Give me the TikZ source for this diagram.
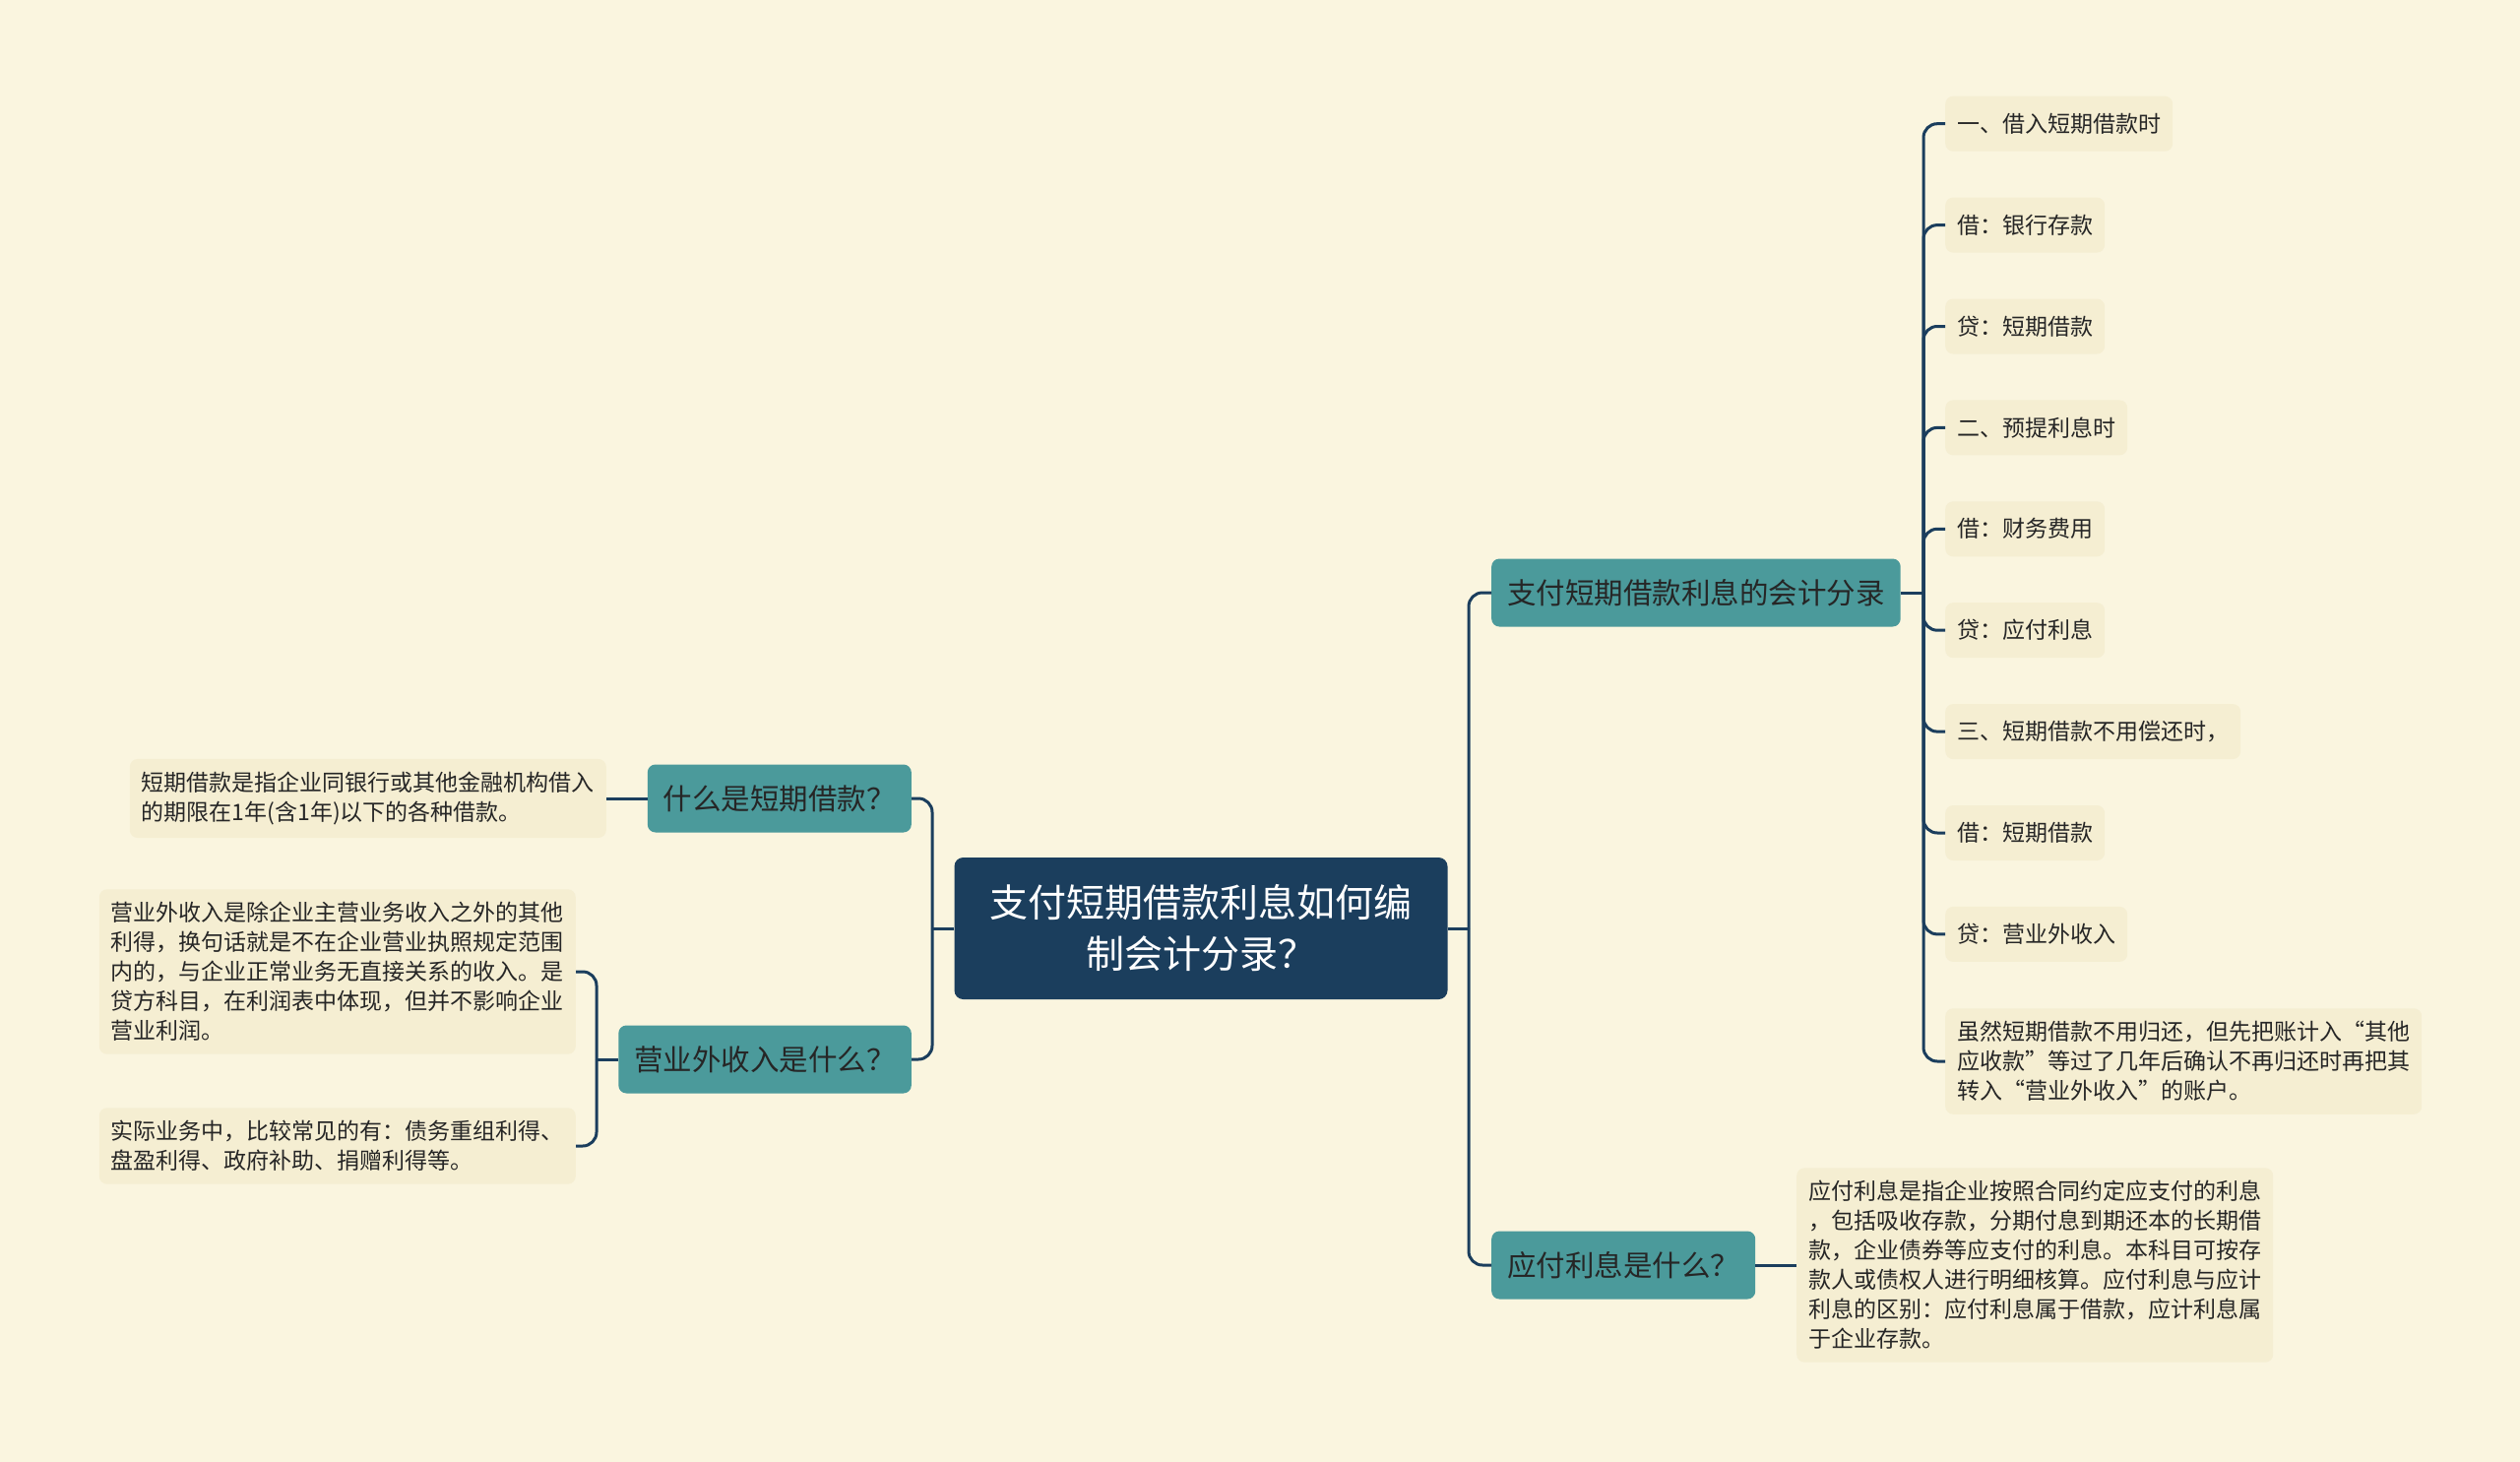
\documentclass[tikz,border=0pt]{standalone}
\usepackage{fontspec}
\setmainfont{Noto Sans CJK SC}
\definecolor{paper}{HTML}{FAF5DF}
\definecolor{navy}{HTML}{1B3E5D}
\definecolor{topicteal}{HTML}{4B9A9B}
\definecolor{leafbg}{HTML}{F5EED2}
\definecolor{ink}{HTML}{262626}

\tikzset{
  root/.style={fill=navy, text=white, rounded corners=9pt, inner xsep=36pt,
    minimum height=144pt, align=center, font=\fontsize{39}{52}\selectfont},
  topic/.style={fill=topicteal, text=ink, rounded corners=8pt, inner xsep=16pt,
    minimum height=69pt, font=\fontsize{29.5}{36}\selectfont},
  leaf/.style={fill=leafbg, text=ink, rounded corners=8pt, inner xsep=12pt,
    inner ysep=13pt, minimum height=56pt, align=left, font=\fontsize{23}{30}\selectfont},
  link/.style={draw=navy, line width=3pt, rounded corners=14pt},
}

\begin{document}
\begin{tikzpicture}[x=1pt, y=-1pt]
\fill[paper] (0,0) rectangle (2560,1485);
\useasboundingbox (0,0) rectangle (2560,1485);

\node[root] (root) at (1220,943) {支付短期借款利息如何编\\制会计分录？};

\node[topic, anchor=east] (what) at (926,811) {什么是短期借款？};
\node[topic, anchor=east] (income) at (926,1076) {营业外收入是什么？};
\node[topic, anchor=west] (entry) at (1515,602) {支付短期借款利息的会计分录};
\node[topic, anchor=west] (payable) at (1515,1285) {应付利息是什么？};

\node[leaf, anchor=east] (whatdef) at (616,811)
  {短期借款是指企业同银行或其他金融机构借入\\的期限在1年(含1年)以下的各种借款。};
\node[leaf, anchor=east] (incomedef) at (585,987)
  {营业外收入是除企业主营业务收入之外的其他\\利得，换句话就是不在企业营业执照规定范围\\内的，与企业正常业务无直接关系的收入。是\\贷方科目，在利润表中体现，但并不影响企业\\营业利润。};
\node[leaf, anchor=east] (incomeex) at (585,1164)
  {实际业务中，比较常见的有：债务重组利得、\\盘盈利得、政府补助、捐赠利得等。};
\node[leaf, anchor=west] (payabledef) at (1825,1285)
  {应付利息是指企业按照合同约定应支付的利息\\，包括吸收存款，分期付息到期还本的长期借\\款，企业债券等应支付的利息。本科目可按存\\款人或债权人进行明细核算。应付利息与应计\\利息的区别：应付利息属于借款，应计利息属\\于企业存款。};

\foreach \txt [count=\i from 0] in {一、借入短期借款时, 借：银行存款, 贷：短期借款,
    二、预提利息时, 借：财务费用, 贷：应付利息, 三、短期借款不用偿还时，,
    借：短期借款, 贷：营业外收入}
  \node[leaf, anchor=west] (e\i) at (1976,125.7+102.9*\i) {\txt};
\node[leaf, anchor=west] (e9) at (1976,1078)
  {虽然短期借款不用归还，但先把账计入“其他\\应收款”等过了几年后确认不再归还时再把其\\转入“营业外收入”的账户。};

\coordinate (rootl) at (947,943);
\coordinate (rootr) at (1492,943);
\coordinate (incomes) at (606,1076);
\coordinate (entrys) at (1954,602);

\draw[link] (root.west) -- (rootl);
\draw[link] (rootl) |- (what.east);
\draw[link] (rootl) |- (income.east);
\draw[link] (root.east) -- (rootr);
\draw[link] (rootr) |- (entry.west);
\draw[link] (rootr) |- (payable.west);

\draw[link] (what.west) -- (whatdef.east);
\draw[link] (income.west) -- (incomes);
\draw[link] (incomes) |- (incomedef.east);
\draw[link] (incomes) |- (incomeex.east);
\draw[link] (payable.east) -- (payabledef.west);

\draw[link] (entry.east) -- (entrys);
\foreach \i in {0,...,9}
  \draw[link] (entrys) |- (e\i.west);
\end{tikzpicture}
\end{document}
